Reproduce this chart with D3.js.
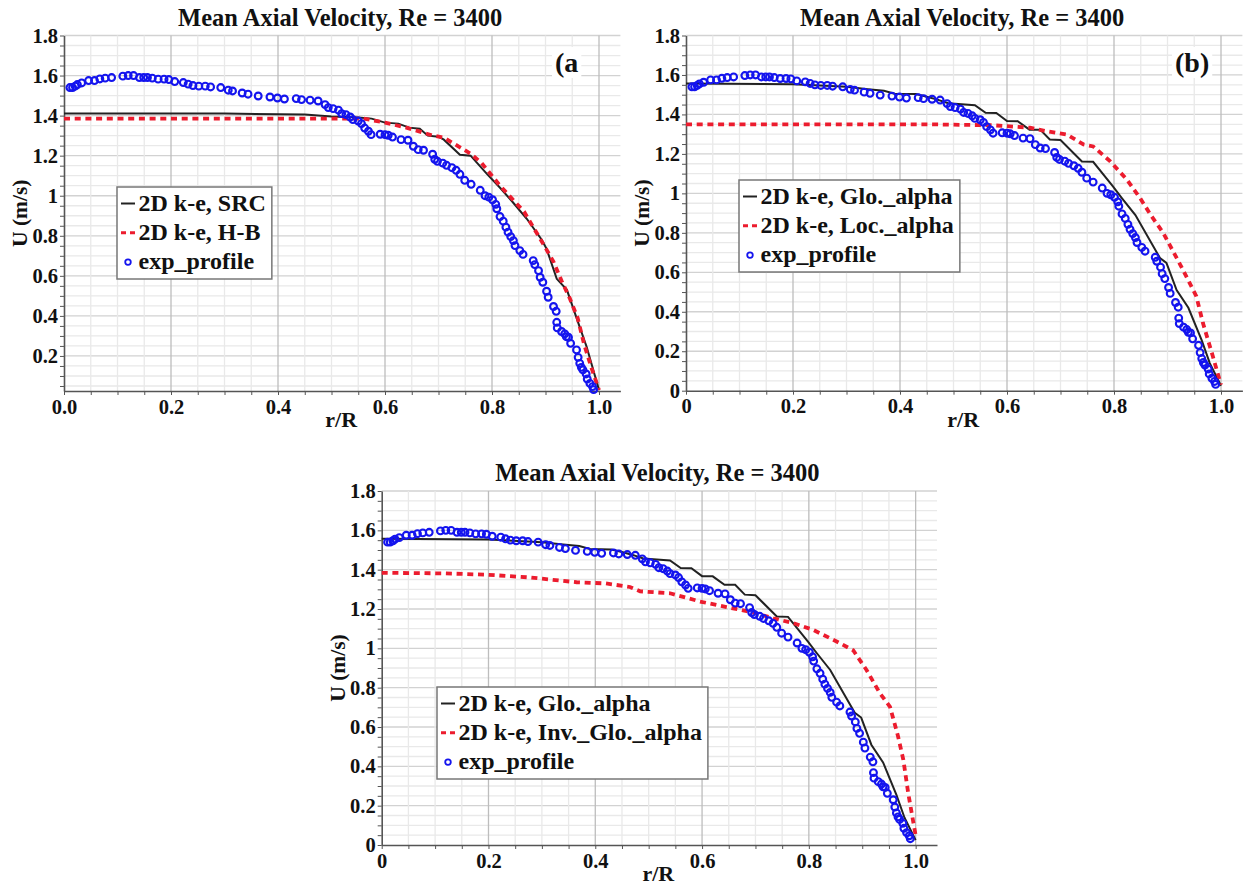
<!doctype html>
<html>
<head>
<meta charset="utf-8">
<title>Mean Axial Velocity, Re = 3400</title>
<script src="https://cdnjs.cloudflare.com/ajax/libs/d3/7.8.5/d3.min.js"></script>
<style>
    body { margin: 0; background: #fff; }
    svg text { font-family: "Liberation Serif", "Times New Roman", serif; font-weight: bold; fill: #111; }
</style>
</head>
<body>
<svg width="1246" height="886"></svg>
<script>

// experimental profile, [r/R, U]
var expProfile = [
    [0.011,1.54],[0.016,1.54],[0.021,1.547],[0.025,1.555],[0.033,1.563],[0.046,1.575],[0.057,1.575],[0.067,1.583],
    [0.077,1.587],[0.089,1.59],[0.11,1.597],[0.12,1.60],[0.13,1.60],[0.141,1.59],[0.149,1.59],[0.156,1.59],
    [0.165,1.587],[0.176,1.582],[0.187,1.582],[0.196,1.58],[0.207,1.57],[0.223,1.565],[0.232,1.557],[0.241,1.55],
    [0.252,1.547],[0.264,1.547],[0.274,1.543],[0.293,1.54],[0.307,1.527],[0.315,1.523],[0.333,1.513],[0.344,1.507],
    [0.363,1.498],[0.385,1.493],[0.399,1.488],[0.412,1.483],[0.434,1.485],[0.444,1.48],[0.46,1.477],[0.475,1.473],
    [0.488,1.455],[0.494,1.44],[0.503,1.435],[0.513,1.427],[0.519,1.41],[0.527,1.405],[0.535,1.393],[0.54,1.38],
    [0.55,1.373],[0.556,1.36],[0.562,1.338],[0.569,1.322],[0.574,1.305],[0.591,1.307],[0.6,1.305],[0.606,1.302],
    [0.614,1.293],[0.63,1.28],[0.643,1.277],[0.653,1.247],[0.662,1.23],[0.672,1.227],[0.689,1.207],[0.693,1.182],
    [0.698,1.172],[0.708,1.163],[0.715,1.152],[0.725,1.14],[0.733,1.127],[0.74,1.107],[0.749,1.077],[0.761,1.057],
    [0.778,1.027],[0.787,1.0],[0.794,0.993],[0.801,0.98],[0.807,0.957],[0.809,0.935],[0.815,0.896],[0.821,0.873],
    [0.826,0.843],[0.83,0.818],[0.835,0.796],[0.84,0.776],[0.843,0.751],[0.852,0.726],[0.858,0.707],[0.877,0.676],
    [0.88,0.656],[0.887,0.626],[0.89,0.593],[0.895,0.568],[0.902,0.523],[0.905,0.493],[0.915,0.447],[0.92,0.423],
    [0.921,0.368],[0.922,0.34],[0.93,0.322],[0.936,0.31],[0.939,0.296],[0.943,0.293],[0.947,0.263],[0.958,0.23],
    [0.961,0.193],[0.964,0.163],[0.967,0.143],[0.97,0.13],[0.976,0.11],[0.978,0.085],[0.983,0.063],[0.988,0.047],
    [0.99,0.032]
];

// 2D k-e, SRC
var srcProfile = [
    [0,1.41],[0.3,1.41],[0.45,1.405],[0.5,1.395],[0.55,1.39],[0.575,1.385],[0.6,1.365],[0.625,1.36],[0.645,1.34],
    [0.665,1.335],[0.68,1.30],[0.70,1.295],[0.71,1.28],[0.74,1.205],[0.76,1.2],[0.79,1.11],[0.815,1.04],[0.835,0.98],
    [0.865,0.885],[0.893,0.78],[0.902,0.735],[0.921,0.585],[0.94,0.53],[0.958,0.39],[0.977,0.245],[1.0,0.03]
];

// 2D k-e, H-B
var hbProfile = [
    [0,1.385],[0.45,1.385],[0.56,1.385],[0.6,1.365],[0.64,1.34],[0.69,1.30],[0.71,1.29],[0.76,1.21],[0.78,1.165],
    [0.815,1.05],[0.86,0.92],[0.90,0.74],[0.915,0.67],[0.93,0.575],[0.945,0.49],[0.96,0.39],[0.972,0.26],
    [0.986,0.14],[1.0,0.03]
];

// 2D k-e, Glo._alpha
var gloProfile = [
    [0,1.557],[0.2,1.553],[0.3,1.54],[0.34,1.528],[0.37,1.52],[0.39,1.505],[0.43,1.503],[0.45,1.49],[0.47,1.475],
    [0.49,1.457],[0.54,1.447],[0.56,1.408],[0.58,1.407],[0.60,1.367],[0.62,1.366],[0.642,1.323],[0.662,1.323],
    [0.68,1.273],[0.70,1.27],[0.74,1.162],[0.761,1.16],[0.798,1.035],[0.815,0.975],[0.84,0.89],[0.886,0.672],
    [0.898,0.648],[0.917,0.51],[0.939,0.42],[0.964,0.255],[0.979,0.14],[1.0,0.025]
];

// 2D k-e, Loc._alpha
var locProfile = [
    [0,1.35],[0.45,1.35],[0.574,1.345],[0.643,1.333],[0.674,1.315],[0.712,1.298],[0.743,1.248],[0.761,1.238],
    [0.793,1.162],[0.824,1.07],[0.849,0.975],[0.87,0.885],[0.892,0.8],[0.929,0.612],[0.954,0.478],[0.966,0.345],
    [0.985,0.172],[1.0,0.03]
];

// 2D k-e, Inv._Glo._alpha
var invProfile = [
    [0,1.384],[0.12,1.381],[0.2,1.374],[0.28,1.36],[0.365,1.336],[0.42,1.33],[0.465,1.312],[0.484,1.29],[0.54,1.28],
    [0.596,1.238],[0.646,1.21],[0.696,1.182],[0.733,1.153],[0.771,1.128],[0.808,1.094],[0.852,1.035],[0.883,0.99],
    [0.908,0.89],[0.933,0.772],[0.952,0.703],[0.967,0.553],[0.977,0.433],[0.986,0.265],[0.996,0.11],[1.0,0.05]
];

// tick labels
var xTicks = [0, 0.2, 0.4, 0.6, 0.8, 1.0];
var xLabelsA = ["0.0", "0.2", "0.4", "0.6", "0.8", "1.0"];
var xLabelsBC = ["0", "0.2", "0.4", "0.6", "0.8", "1.0"];
var yTicks = [0, 0.2, 0.4, 0.6, 0.8, 1.0, 1.2, 1.4, 1.6, 1.8];
var yLabels = ["0", "0.2", "0.4", "0.6", "0.8", "1", "1.2", "1.4", "1.6", "1.8"];

var titleText = "Mean Axial Velocity, Re = 3400";

var panels = [
    { left: 64, right: 620.4, top: 35.5, bottom: 391, yMin: 0.025, xLabels: xLabelsA, tag: "(a", tagX: 555, tagY: 72,
      legend: { x: 117, y: 187 },
      series: [
        { name: "2D k-e, SRC", data: srcProfile, type: "solid" },
        { name: "2D k-e, H-B", data: hbProfile, type: "dash" },
        { name: "exp_profile", data: expProfile, type: "circle" } ] },
    { left: 686, right: 1242.4, top: 35.5, bottom: 390.7, yMin: 0, xLabels: xLabelsBC, tag: "(b)", tagX: 1175, tagY: 72,
      legend: { x: 739, y: 180 },
      series: [
        { name: "2D k-e, Glo._alpha", data: gloProfile, type: "solid" },
        { name: "2D k-e, Loc._alpha", data: locProfile, type: "dash" },
        { name: "exp_profile", data: expProfile, type: "circle" } ] },
    { left: 381.7, right: 937, top: 491, bottom: 845, yMin: 0, xLabels: xLabelsBC, tag: null,
      legend: { x: 437, y: 687 },
      series: [
        { name: "2D k-e, Glo._alpha", data: gloProfile, type: "solid" },
        { name: "2D k-e, Inv._Glo._alpha", data: invProfile, type: "dash" },
        { name: "exp_profile", data: expProfile, type: "circle" } ] }
];

var svg = d3.select("svg");
var red = "#ec1c2e", blue = "#1414ee", black = "#222";

panels.forEach(function(p) {
    var x = d3.scaleLinear().domain([0, 1.04]).range([p.left, p.right]);
    var y = d3.scaleLinear().domain([p.yMin, 1.8]).range([p.bottom, p.top]);
    var g = svg.append("g");

    var xMinor = d3.range(0, 1.0401, 0.05).map(function(d) { return +d.toFixed(2); });
    var yMinor = d3.range(0.05, 1.8001, 0.05).map(function(d) { return +d.toFixed(2); });
    var isMajor = function(d) { return Math.abs(d / 0.2 - Math.round(d / 0.2)) < 1e-6; };

    // grid
    g.selectAll(".hg").data(yMinor).enter().append("line")
        .attr("x1", p.left).attr("x2", p.right)
        .attr("y1", function(d) { return y(d); }).attr("y2", function(d) { return y(d); })
        .attr("stroke", function(d) { return isMajor(d) ? "#d2d2d2" : "#e9e9e9"; })
        .attr("stroke-width", 1.3);
    g.selectAll(".vg").data(xMinor.filter(function(d) { return d > 0; })).enter().append("line")
        .attr("y1", p.top).attr("y2", p.bottom)
        .attr("x1", function(d) { return x(d); }).attr("x2", function(d) { return x(d); })
        .attr("stroke", function(d) { return isMajor(d) ? "#bdbdbd" : "#e9e9e9"; })
        .attr("stroke-width", 1.3);

    // axes
    var xa = g.append("g").attr("transform", "translate(0," + p.bottom + ")")
        .call(d3.axisBottom(x).tickValues(xMinor).tickSize(4).tickPadding(4).tickSizeOuter(0)
            .tickFormat(function(d) { var i = xTicks.indexOf(d); return i < 0 ? "" : p.xLabels[i]; }));
    var ya = g.append("g").attr("transform", "translate(" + p.left + ",0)")
        .call(d3.axisLeft(y).tickValues(p.yMin > 0 ? yMinor : [0].concat(yMinor)).tickSize(4).tickPadding(2).tickSizeOuter(0)
            .tickFormat(function(d) { var i = yTicks.indexOf(d); return i < 0 ? "" : yLabels[i]; }));
    [xa, ya].forEach(function(a) {
        a.select(".domain").attr("stroke", "#555").attr("stroke-width", 1.6);
        a.selectAll(".tick line").attr("stroke", "#555");
        a.selectAll("text").style("font-size", "20.5px").attr("fill", "#111");
    });

    // titles and labels
    g.append("text").attr("x", (p.left + p.right) / 2 - 2).attr("y", p.top - 10)
        .attr("text-anchor", "middle").style("font-size", "24.5px").text(titleText);
    g.append("text").attr("x", (p.left + p.right) / 2 - 1).attr("y", p.bottom + 36)
        .attr("text-anchor", "middle").style("font-size", "22px").text("r/R");
    g.append("text").attr("transform", "translate(" + (p.left - 37) + "," + ((p.top + p.bottom) / 2) + ") rotate(-90)")
        .attr("text-anchor", "middle").style("font-size", "21.5px").text("U (m/s)");

    // series
    var line = d3.line().x(function(d) { return x(d[0]); }).y(function(d) { return y(d[1]); });
    p.series.forEach(function(s) {
        if (s.type === "solid") {
            g.append("path").datum(s.data).attr("d", line).attr("fill", "none")
                .attr("stroke", black).attr("stroke-width", 2);
        }
    });
    p.series.forEach(function(s) {
        if (s.type === "dash") {
            g.append("path").datum(s.data).attr("d", line).attr("fill", "none")
                .attr("stroke", red).attr("stroke-width", 3.8).attr("stroke-dasharray", "6,4.7");
        }
    });
    p.series.forEach(function(s) {
        if (s.type === "circle") {
            g.selectAll(".pt").data(s.data).enter().append("circle")
                .attr("cx", function(d) { return x(d[0]); }).attr("cy", function(d) { return y(d[1]); })
                .attr("r", 3.4).attr("fill", "none").attr("stroke", blue).attr("stroke-width", 2.1);
        }
    });

    // legend
    var lg = g.append("g").attr("transform", "translate(" + p.legend.x + "," + p.legend.y + ")");
    var box = lg.append("rect").attr("fill", "#fff").attr("stroke", "#777").attr("stroke-width", 1.5).attr("height", 92);
    var maxW = 0;
    p.series.forEach(function(s, i) {
        var by = 23.5 + i * 29.3;
        var t = lg.append("text").attr("x", 21.5).attr("y", by).style("font-size", "24px").text(s.name);
        maxW = Math.max(maxW, t.node().getComputedTextLength());
        if (s.type === "solid") {
            lg.append("line").attr("x1", 4).attr("x2", 18).attr("y1", by - 7).attr("y2", by - 7)
                .attr("stroke", black).attr("stroke-width", 2);
        } else if (s.type === "dash") {
            lg.append("line").attr("x1", 4).attr("x2", 19).attr("y1", by - 7).attr("y2", by - 7)
                .attr("stroke", red).attr("stroke-width", 3).attr("stroke-dasharray", "5,4");
        } else {
            lg.append("circle").attr("cx", 11).attr("cy", by - 7).attr("r", 2.8)
                .attr("fill", "none").attr("stroke", blue).attr("stroke-width", 1.8);
        }
    });
    box.attr("width", 21.5 + maxW + 6);

    // panel tag
    if (p.tag) {
        var tg = g.append("g");
        var tt = tg.append("text").attr("x", p.tagX).attr("y", p.tagY).style("font-size", "28px").text(p.tag);
        var bb = tt.node().getBBox();
        tg.insert("rect", "text").attr("x", bb.x - 3).attr("y", bb.y).attr("width", bb.width + 6).attr("height", bb.height)
            .attr("fill", "#fff");
    }
});

</script>
</body>
</html>
